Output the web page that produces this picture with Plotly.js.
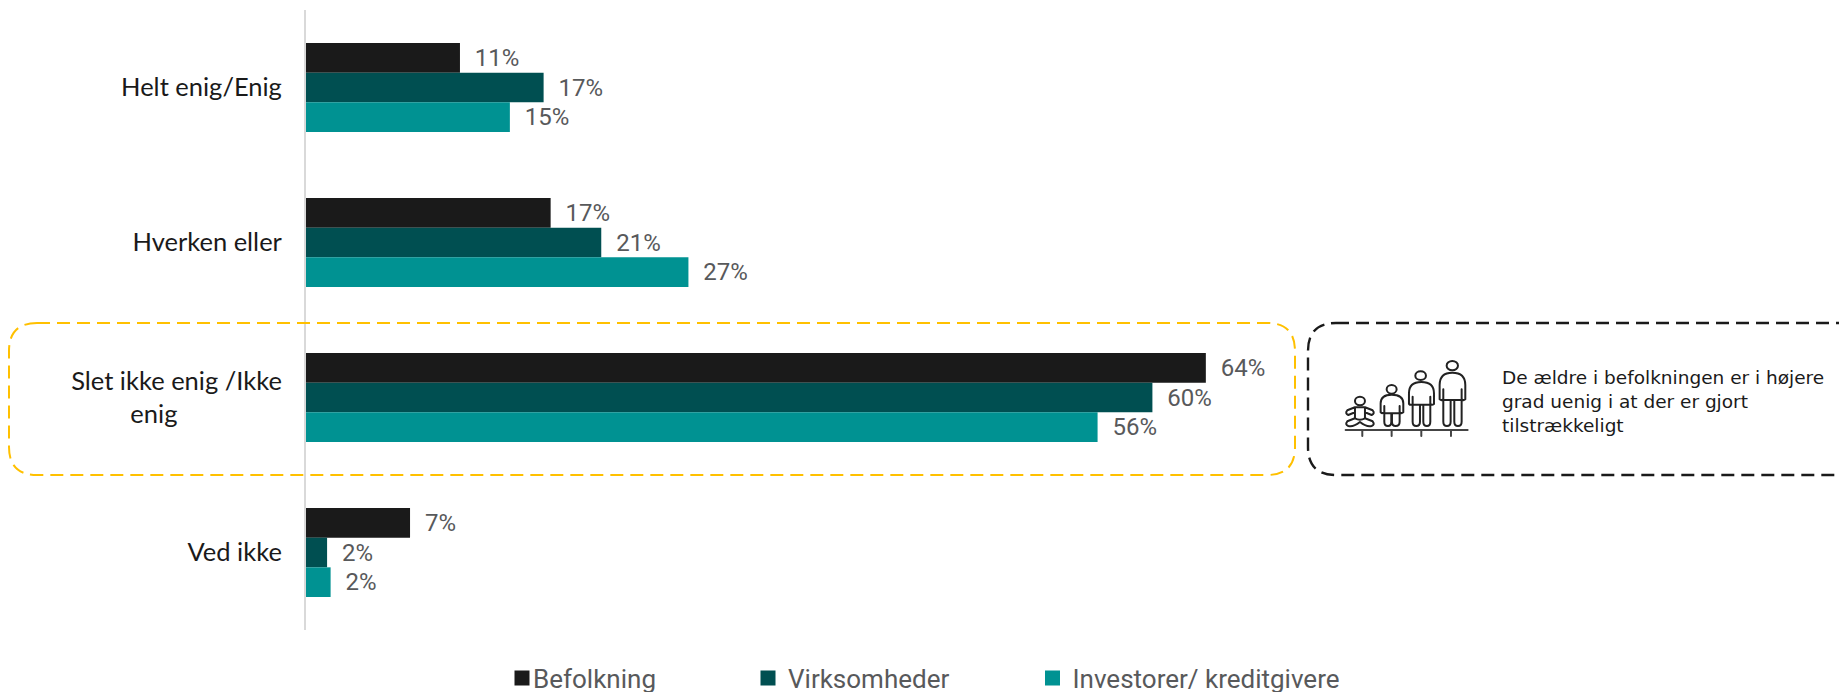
<!DOCTYPE html>
<html>
<head>
<meta charset="utf-8">
<script src="https://cdn.plot.ly/plotly-3.0.1.min.js"></script>
<style>html,body{margin:0;padding:0;background:#fff}#chart{width:1839px;height:692px}</style>
</head>
<body>
<div id="chart"></div>
<script>
var categories = ['Helt enig/Enig', 'Hverken eller', 'Slet ikke enig /Ikke<br>enig\u00a0\u00a0\u00a0\u00a0\u00a0\u00a0\u00a0\u00a0\u00a0\u00a0\u00a0\u00a0\u00a0\u00a0\u00a0\u00a0', 'Ved ikke'];
var befolkning = [10.95, 17.4, 64, 7.4];
var virksomheder = [16.9, 21, 60.2, 1.5];
var investorer = [14.5, 27.2, 56.3, 1.75];
var befolkningLabels = ['11%', '17%', '64%', '7%'];
var virksomhederLabels = ['17%', '21%', '60%', '2%'];
var investorerLabels = ['15%', '27%', '56%', '2%'];
var seriesNames = ['Befolkning', 'Virksomheder', 'Investorer/ kreditgivere'];
var seriesColors = ['#1a1a1a', '#004f51', '#009292'];
var calloutText = 'De ældre i befolkningen er i højere<br>grad uenig i at der er gjort<br>tilstrækkeligt';

var W = 1839, H = 692, L = 306, T = 10, PW = W - L, PAPERH = H - T, AXISH = 620;
var narrow = '"Liberation Sans Narrow", Roboto, sans-serif';
var round = 'Lato, sans-serif';
function px(x) { return (x - L) / PW; }
function py(y) { return 1 - (y - T) / PAPERH; }
function roundedBox(x0, y0, x1, y1, r) {
  return 'M' + px(x0 + r) + ',' + py(y0) + ' L' + px(x1 - r) + ',' + py(y0) +
    ' Q' + px(x1) + ',' + py(y0) + ' ' + px(x1) + ',' + py(y0 + r) +
    ' L' + px(x1) + ',' + py(y1 - r) +
    ' Q' + px(x1) + ',' + py(y1) + ' ' + px(x1 - r) + ',' + py(y1) +
    ' L' + px(x0 + r) + ',' + py(y1) +
    ' Q' + px(x0) + ',' + py(y1) + ' ' + px(x0) + ',' + py(y1 - r) +
    ' L' + px(x0) + ',' + py(y0 + r) +
    ' Q' + px(x0) + ',' + py(y0) + ' ' + px(x0 + r) + ',' + py(y0) + ' Z';
}
function barTrace(name, values, labels, color, legendId) {
  return {
    type: 'bar', orientation: 'h', name: name, x: values, y: categories,
    marker: {color: color, line: {width: 0}},
    text: labels, texttemplate: '\u00a0\u00a0%{text}', textposition: 'outside', cliponaxis: false,
    textfont: {family: narrow, size: 24, color: '#58595b'},
    hoverinfo: 'x+y+name', legend: legendId
  };
}
var traces = [
  barTrace(seriesNames[0], befolkning, befolkningLabels, seriesColors[0], 'legend'),
  barTrace(seriesNames[1], virksomheder, virksomhederLabels, seriesColors[1], 'legend2'),
  barTrace(seriesNames[2], investorer, investorerLabels, seriesColors[2], 'legend3')
];
function legendAt(xPx) {
  return {x: px(xPx), xanchor: 'left', y: py(665), yanchor: 'middle', orientation: 'h',
    bgcolor: 'rgba(0,0,0,0)', borderwidth: 0, font: {family: narrow, size: 26, color: '#58595b'}};
}
var LEGEND_SHIFT = 13;
var icon = "<svg xmlns='http://www.w3.org/2000/svg' viewBox='40 25 380 240' width='380' height='240'>" +
  "<g fill='none' stroke='#222' stroke-width='6' stroke-linecap='round' stroke-linejoin='round'>" +
  "<path stroke='#444' d='M47,240H413M97,240V258M185,240V258M274,240V258M363,240V258'/>" +
  "<ellipse cx='367' cy='47' rx='17' ry='14'/>" +
  "<path d='M329,148V105Q329,68 367,68Q406,68 406,105V148Q400,153 395,148V118M340,118V148Q335,153 329,148M340,148V215Q340,228 351,228Q362,228 362,215V150M340,150H395M373,150V215Q373,228 384,228Q395,228 395,215V148'/>" +
  "<ellipse cx='272' cy='77' rx='16' ry='13'/>" +
  "<path d='M237,162V130Q237,96 274,96Q312,96 312,130V162Q306,167 301,162V140M248,140V162Q242,167 237,162M248,162V215Q248,228 259,228Q270,228 270,215V164M248,164H301M280,164V215Q280,228 291,228Q301,228 301,215V162'/>" +
  "<ellipse cx='185' cy='118' rx='15' ry='13'/>" +
  "<path d='M152,187V160Q152,134 185,134Q220,134 220,160V187Q214,192 209,187V168M163,168V187Q157,192 152,187M163,187V215Q163,228 174,228Q184,228 184,215V190M163,190H209M186,190V215Q186,228 197,228Q209,228 209,215V187'/>" +
  "<ellipse cx='90' cy='153' rx='15' ry='13'/>" +
  "<path d='M75,172L52,181Q44,190 55,195L75,187M105,172L128,181Q136,190 125,195L105,187M75,172H105M75,172V205M105,172V205M75,205L52,214Q44,224 55,228Q70,232 90,216Q110,232 125,228Q136,224 128,214L105,205M75,205Q90,213 105,205'/>" +
  "</g></svg>";
var layout = {
  width: W, height: H, paper_bgcolor: '#fff', plot_bgcolor: '#fff',
  margin: {l: L, r: 0, t: T, b: 0, pad: 0},
  barmode: 'group', bargap: 0.426, bargroupgap: 0,
  font: {family: round},
  xaxis: {range: [0, PW / 14.06], visible: false, fixedrange: true},
  yaxis: {type: 'category', categoryorder: 'array', categoryarray: categories, autorange: false, range: [3.5, -0.5],
    domain: [1 - AXISH / PAPERH, 1],
    showline: true, linecolor: '#d9d9d9', linewidth: 2, ticks: '', showgrid: false, zeroline: false,
    ticklabelstandoff: 17, tickfont: {family: round, size: 25.5, color: '#1a1a1a'}, fixedrange: true},
  showlegend: true,
  legend: legendAt(502), legend2: legendAt(748), legend3: legendAt(1032.5),
  shapes: [
    {type: 'path', xref: 'paper', yref: 'paper', path: roundedBox(9, 323, 1295, 475, 28), line: {color: '#ffc000', width: 2, dash: '13px,7px'}},
    {type: 'path', xref: 'paper', yref: 'paper', path: roundedBox(1308, 323, 1900, 475, 28), line: {color: '#1a1a1a', width: 2.4, dash: '13px,7px'}}
  ],
  images: [{source: 'data:image/svg+xml;charset=utf-8,' + encodeURIComponent(icon), xref: 'paper', yref: 'paper',
    x: px(1343.3), y: py(358.3), sizex: 126.67 / PW, sizey: 80 / PAPERH, xanchor: 'left', yanchor: 'top', sizing: 'stretch', layer: 'above'}],
  annotations: [{text: calloutText, xref: 'paper', yref: 'paper', x: px(1500), y: py(401), xanchor: 'left', yanchor: 'middle', align: 'left',
    showarrow: false, font: {family: '"DejaVu Sans", sans-serif', size: 18.5, color: '#1a1a1a'}}]
};
Plotly.newPlot('chart', traces, layout, {displayModeBar: false, responsive: false, staticPlot: true}).then(function () {
  document.querySelectorAll('.infolayer .traces').forEach(function (g) {
    var t = g.querySelector('.legendtext');
    if (t) t.setAttribute('x', '31');
    var p = g.querySelector('.legendpoints path');
    if (p) p.setAttribute('d', 'M7.5,7.5H-7.5V-7.5H7.5Z');
  });
  ['.legend', '.legend2', '.legend3'].forEach(function (sel) {
    var lg = document.querySelector('.infolayer ' + sel);
    if (!lg) return;
    var m = /translate\(([-\d.]+)[ ,]+([-\d.]+)\)/.exec(lg.getAttribute('transform'));
    if (m) lg.setAttribute('transform', 'translate(' + m[1] + ',' + (parseFloat(m[2]) + LEGEND_SHIFT) + ')');
  });
});
</script>
</body>
</html>
